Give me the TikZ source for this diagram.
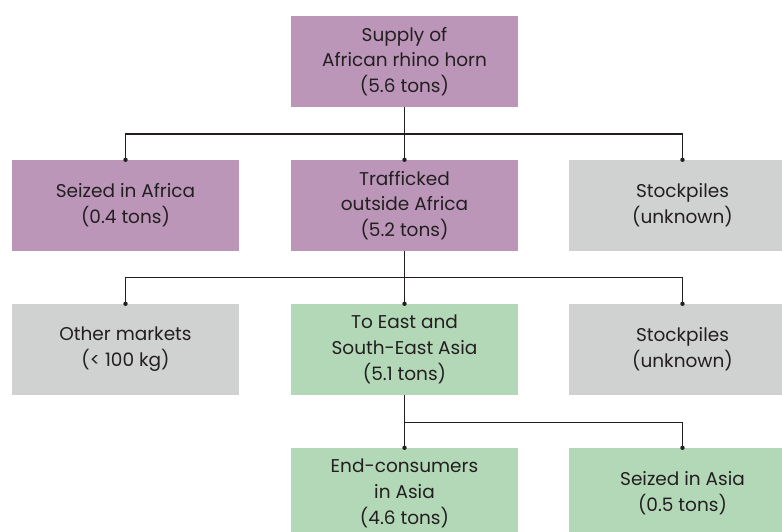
\documentclass[tikz,border=0pt]{standalone}
\usepackage{fontspec}
\setmainfont{Poppins}
\definecolor{boxpurple}{RGB}{187,150,185}
\definecolor{boxgreen}{RGB}{179,216,184}
\definecolor{boxgray}{RGB}{208,209,209}
\definecolor{ink}{RGB}{35,31,32}
\begin{document}
\begin{tikzpicture}[x=1pt,y=-1pt,
  flowbox/.style={minimum width=227pt,minimum height=91pt,inner sep=0pt,align=center,
    text=ink,font=\fontsize{18.5}{25.7}\selectfont},
  purplebox/.style={flowbox,fill=boxpurple},
  greenbox/.style={flowbox,fill=boxgreen},
  graybox/.style={flowbox,fill=boxgray},
  link/.style={draw=ink,line width=1.4pt},
  dotend/.style={fill=ink}]
\clip (0,0) rectangle (782,532);
\fill[white] (0,0) rectangle (782,532);
% row 0
\node[purplebox] (supply) at (404.5,61.5) {Supply of\\African rhino horn\\(5.6 tons)};
% row 1
\node[purplebox] (seizedaf) at (125.5,205.5) {Seized in Africa\\(0.4 tons)};
\node[purplebox] (traff) at (404.5,205.5) {Trafficked\\outside Africa\\(5.2 tons)};
\node[graybox] (stock1) at (682.5,205.5) {Stockpiles\\(unknown)};
% row 2
\node[graybox] (other) at (125.5,349.5) {Other markets\\(< 100 kg)};
\node[greenbox] (east) at (404.5,349.5) {To East and\\South-East Asia\\(5.1 tons)};
\node[graybox] (stock2) at (682.5,349.5) {Stockpiles\\(unknown)};
% row 3
\node[greenbox] (endc) at (404.5,493.5) {End-consumers\\in Asia\\(4.6 tons)};
\node[greenbox] (seizedas) at (682.5,493.5) {Seized in Asia\\(0.5 tons)};
% connectors
\draw[link] (supply.south) -- (traff.north);
\draw[link] (supply.south) ++(0,27) -| (seizedaf.north);
\draw[link] (supply.south) ++(0,27) -| (stock1.north);
\draw[link] (traff.south) -- (east.north);
\draw[link] (traff.south) ++(0,26) -| (other.north);
\draw[link] (traff.south) ++(0,26) -| (stock2.north);
\draw[link] (east.south) -- (endc.north);
\draw[link] (east.south) ++(0,27) -| (seizedas.north);
\foreach \n in {seizedaf,traff,stock1,other,east,stock2,endc,seizedas}
  \fill[dotend] (\n.north) circle (2.2);
\end{tikzpicture}
\end{document}
